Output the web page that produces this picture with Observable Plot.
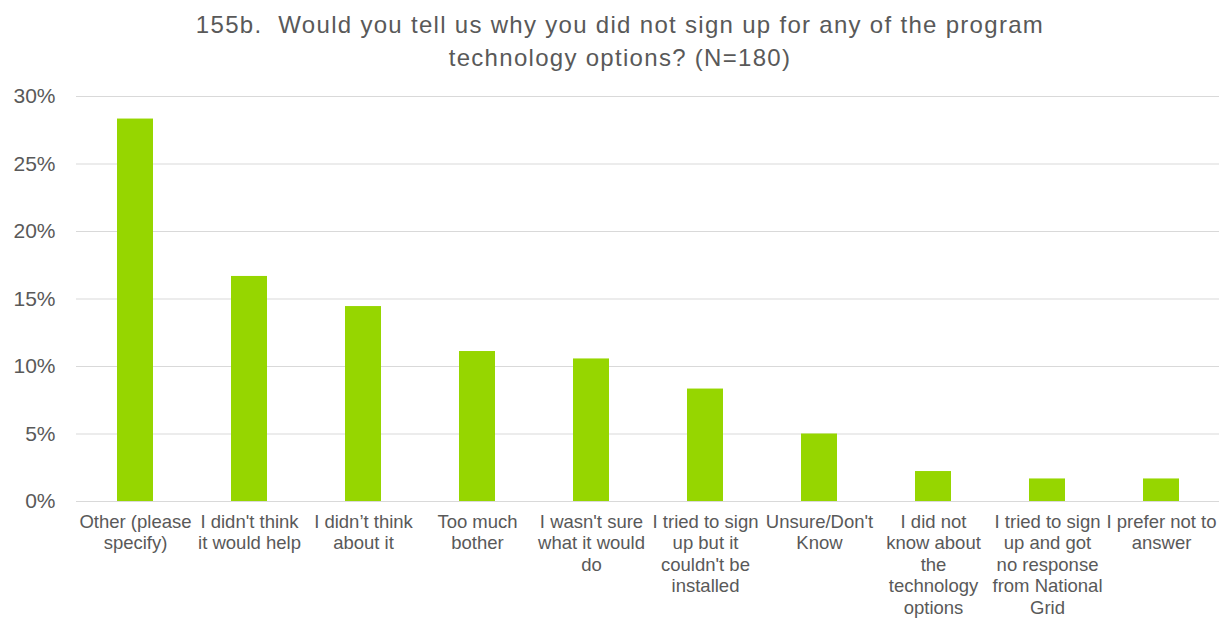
<!DOCTYPE html>
<html>
<head>
<meta charset="utf-8">
<script src="https://cdn.jsdelivr.net/npm/d3@7"></script>
<script src="https://cdn.jsdelivr.net/npm/@observablehq/plot@0.6"></script>
<style>
  html, body { margin: 0; padding: 0; background: #fff; }
  #title { font-family: "Liberation Sans", Arial, sans-serif; font-size: 24px; letter-spacing: 1.3px; color: #595959;
           text-align: center; line-height: 33px; height: 80px; padding-top: 8px; box-sizing: border-box; width: 1222px; padding-left: 18px; }
</style>
</head>
<body>
<div id="title">155b.&nbsp; Would you tell us why you did not sign up for any of the program<br>technology options? (N=180)</div>
<div id="chart"></div>
<script>
const categories = [
  "Other (please\nspecify)",
  "I didn't think\nit would help",
  "I didn’t think\nabout it",
  "Too much\nbother",
  "I wasn't sure\nwhat it would\ndo",
  "I tried to sign\nup but it\ncouldn't be\ninstalled",
  "Unsure/Don't\nKnow",
  "I did not\nknow about\nthe\ntechnology\noptions",
  "I tried to sign\nup and got\nno response\nfrom National\nGrid",
  "I prefer not to\nanswer"
];
const values = [0.2833, 0.1667, 0.1444, 0.1111, 0.1056, 0.0833, 0.05, 0.0222, 0.0167, 0.0167];
const yTicks = [0, 0.05, 0.10, 0.15, 0.20, 0.25, 0.30];

const data = categories.map((c, i) => ({category: c, value: values[i]}));

const chart = Plot.plot({
  width: 1222,
  height: 538,
  marginTop: 16,
  marginLeft: 76,
  marginRight: 3,
  marginBottom: 117,
  style: {fontFamily: "'Liberation Sans', Arial, sans-serif", color: "#595959", background: "#fff"},
  x: {domain: categories, paddingInner: 0.685, paddingOuter: 0.3425, label: null},
  y: {domain: [0, 0.30], label: null},
  marks: [
    Plot.gridY(yTicks, {stroke: "#d9d9d9", strokeOpacity: 1, strokeWidth: 1}),
    Plot.barY(data, {x: "category", y: "value", fill: "#96d600"}),
    Plot.ruleY([0], {stroke: "#d9d9d9", strokeWidth: 1}),
    Plot.axisY({ticks: yTicks, tickFormat: d => Math.round(d * 100) + "%", tickSize: 0, tickPadding: 21, fontSize: 21, fill: "#595959", label: null}),
    Plot.axisX({tickSize: 0, tickPadding: 11, fontSize: 18.5, lineHeight: 1.162, fill: "#595959", label: null})
  ]
});
document.getElementById("chart").appendChild(chart);
</script>
</body>
</html>
